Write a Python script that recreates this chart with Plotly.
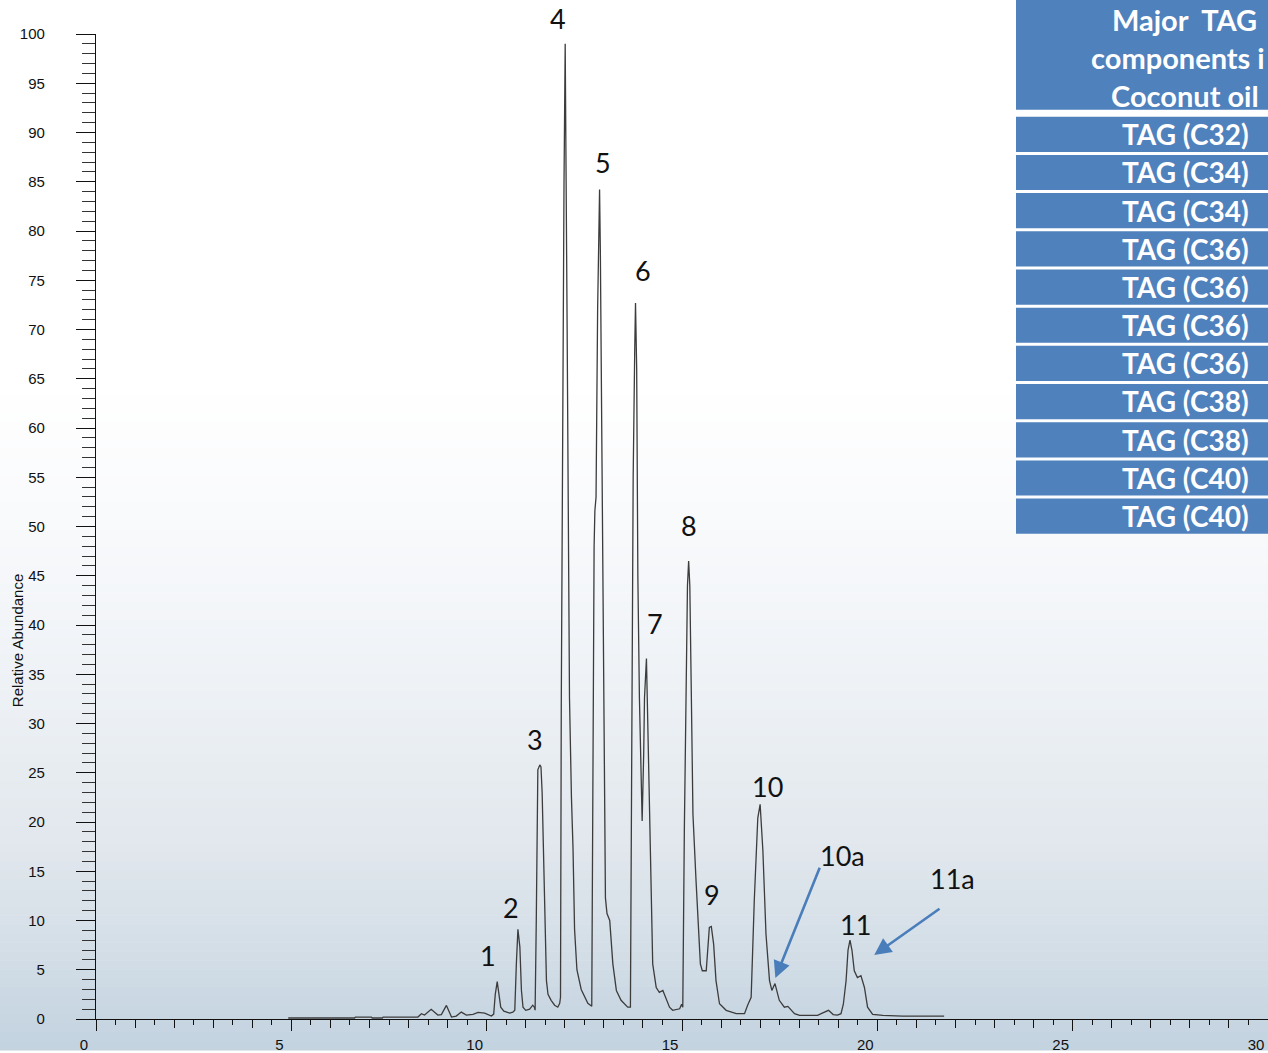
import plotly.graph_objects as go

# ---------------- data ----------------
ret_time = [
    4.92, 6.62, 6.64, 7.05, 7.07, 7.33, 7.35, 8.24, 8.33, 8.41, 8.58, 8.75, 8.84, 8.97,
    9.10, 9.22, 9.35, 9.48, 9.65, 9.78, 9.95, 10.12, 10.18, 10.22, 10.27, 10.31, 10.36,
    10.44, 10.59, 10.67, 10.72, 10.76, 10.80, 10.85, 10.89, 10.93, 11.00, 11.10, 11.18,
    11.22, 11.24, 11.27, 11.29, 11.31, 11.36, 11.39, 11.42, 11.44, 11.48, 11.53, 11.57,
    11.65, 11.74, 11.82, 11.87, 11.89, 11.91, 11.94, 11.98, 12.01, 12.03, 12.06, 12.10,
    12.12, 12.17, 12.21, 12.25, 12.31, 12.42, 12.59, 12.69, 12.72, 12.75, 12.77, 12.80,
    12.84, 12.89, 12.91, 12.94, 12.96, 12.99, 13.04, 13.08, 13.15, 13.23, 13.32, 13.44,
    13.61, 13.68, 13.72, 13.75, 13.79, 13.81, 13.84, 13.87, 13.91, 13.95, 13.98, 14.02,
    14.04, 14.09, 14.11, 14.17, 14.21, 14.25, 14.34, 14.42, 14.51, 14.59, 14.68, 14.76,
    14.94, 14.99, 15.02, 15.06, 15.11, 15.14, 15.17, 15.20, 15.24, 15.28, 15.36, 15.43,
    15.47, 15.52, 15.62, 15.70, 15.75, 15.81, 15.87, 15.96, 16.13, 16.39, 16.60, 16.68,
    16.77, 16.85, 16.94, 17.00, 17.07, 17.15, 17.24, 17.30, 17.38, 17.49, 17.62, 17.71,
    17.88, 18.01, 18.47, 18.59, 18.75, 18.87, 18.98, 19.07, 19.13, 19.20, 19.25, 19.30,
    19.35, 19.41, 19.49, 19.58, 19.67, 19.75, 19.88, 20.14, 20.65, 21.71,
]
rel_abundance = [
    0.1, 0.1, 0.2, 0.2, 0.1, 0.1, 0.2, 0.2, 0.54, 0.4, 0.98, 0.4, 0.45, 1.38,
    0.2, 0.3, 0.7, 0.4, 0.47, 0.67, 0.6, 0.3, 0.5, 2.5, 3.8, 2.6, 1.2,
    0.8, 0.6, 0.7, 0.9, 5.6, 9.1, 7.3, 2.9, 1.2, 0.88, 1.0, 1.4,
    1.2, 0.9, 10.0, 22.0, 25.3, 25.8, 25.6, 23.0, 19.1, 12.3, 3.9, 2.5,
    1.9, 1.4, 1.2, 1.6, 2.2, 32.0, 60.0, 85.0, 99.0, 90.0, 70.0, 45.0,
    32.6, 22.5, 17.4, 9.1, 5.0, 3.0, 1.6, 1.3, 32.6, 48.0, 51.6, 53.0,
    72.0, 84.2, 78.0, 63.0, 47.7, 32.6, 12.3, 10.7, 10.0, 5.6, 2.9, 1.9,
    1.2, 1.2, 32.6, 55.0, 68.0, 72.7, 66.0, 45.0, 32.6, 24.0, 20.1, 27.0,
    32.6, 36.6, 32.6, 19.1, 10.7, 5.6, 3.2, 2.7, 2.9, 2.05, 1.2, 0.88,
    1.04, 1.5, 1.2, 19.1, 32.6, 44.0, 46.5, 44.0, 32.6, 20.8, 14.0, 9.0,
    5.6, 4.9, 4.9, 9.3, 9.4, 7.6, 3.9, 1.55, 0.88, 0.54, 0.54, 1.4,
    2.2, 12.0, 20.4, 21.8, 17.1, 8.6, 3.9, 2.9, 3.6, 1.9, 1.2, 1.28,
    0.54, 0.37, 0.37, 0.6, 0.88, 0.45, 0.4, 0.54, 1.5, 3.9, 7.0, 8.0,
    7.0, 4.9, 4.2, 4.4, 3.2, 1.2, 0.47, 0.37, 0.3, 0.3,
]

peak_labels = ["1", "2", "3", "4", "5", "6", "7", "8", "9", "10", "10a", "11", "11a"]
peak_label_rt = [10.03, 10.61, 11.23, 11.82, 12.99, 13.99, 14.30, 15.19, 15.78, 17.19, 19.10, 19.44, 21.92]
peak_label_ab = [6.4, 11.3, 28.4, 101.6, 87.0, 76.0, 40.2, 50.1, 12.65, 23.6, 16.6, 9.6, 14.3]

table_header = ["Major\u00a0 TAG", "components i", "Coconut oil"]
table_rows = ["TAG (C32)", "TAG (C34)", "TAG (C34)", "TAG (C36)", "TAG (C36)", "TAG (C36)",
              "TAG (C36)", "TAG (C38)", "TAG (C38)", "TAG (C40)", "TAG (C40)"]

x_tick_labels = ["0", "5", "10", "15", "20", "25", "30"]
y_tick_labels = [str(v) for v in range(0, 101, 5)]

# ---------------- geometry helpers (pixel -> paper) ----------------
W, H = 1268, 1053
ML, MR, MT, MB = 96, 0, 34, 31
PW, PH = W - ML - MR, H - MT - MB
Y_MAX = 100.0


def px(xp):
    return (xp - ML) / PW


def py(yp):
    return (H - MB - yp) / PH


fig = go.Figure()

# chromatogram
fig.add_trace(go.Scatter(
    x=ret_time, y=rel_abundance, mode="lines",
    line=dict(color="#3c3c3c", width=1.3),
    hoverinfo="x+y", showlegend=False,
))
# invisible trace on helper axis for the 1-min ticks
fig.add_trace(go.Scatter(x=[], y=[], xaxis="x2", yaxis="y", showlegend=False))

shapes = []
# background gradient
stops = [(0, (255, 255, 255)), (380, (255, 255, 255)), (520, (249, 250, 252)),
         (700, (237, 241, 245)), (850, (225, 231, 237)), (950, (212, 222, 231)),
         (1053, (194, 210, 223))]
step = 9
yy = 0
while yy < H:
    mid = yy + step / 2
    for i in range(len(stops) - 1):
        if stops[i][0] <= mid <= stops[i + 1][0]:
            t = (mid - stops[i][0]) / (stops[i + 1][0] - stops[i][0])
            c = tuple(round(stops[i][1][k] + t * (stops[i + 1][1][k] - stops[i][1][k])) for k in range(3))
            break
    shapes.append(dict(type="rect", xref="paper", yref="paper", layer="below",
                       x0=px(0), x1=px(W), y0=py(yy + step + 0.5), y1=py(yy),
                       fillcolor="rgb(%d,%d,%d)" % c, line=dict(width=0)))
    yy += step

# table blocks
TBL_L = 1016
BLUE = "#4F81BD"
shapes.append(dict(type="rect", xref="paper", yref="paper", layer="above",
                   x0=px(TBL_L), x1=px(W + 5), y0=py(110), y1=py(-5),
                   fillcolor=BLUE, line=dict(width=0)))
row_tops = [117 + i * 38.3 for i in range(len(table_rows))]
for t in row_tops:
    shapes.append(dict(type="rect", xref="paper", yref="paper", layer="above",
                       x0=px(TBL_L), x1=px(W + 5), y0=py(t + 35.3), y1=py(t),
                       fillcolor=BLUE, line=dict(width=0)))

annotations = []
hdr_font = dict(family="Lato, Open Sans, sans-serif", size=29, color="white", weight="bold")
row_font = dict(family="Lato, Open Sans, sans-serif", size=28, color="white", weight="bold")
hdr_right = [1259, 1267, 1261]
for i, line in enumerate(table_header):
    annotations.append(dict(text=line, xref="paper", yref="paper", x=px(hdr_right[i]), y=py(19 + i * 38.5),
                            xanchor="right", yanchor="middle", showarrow=False, font=hdr_font))
for t, lab in zip(row_tops, table_rows):
    annotations.append(dict(text=lab, xref="paper", yref="paper", x=px(1185), y=py(t + 17.5),
                            xanchor="center", yanchor="middle", showarrow=False, font=row_font))

# peak labels (x on the time axis, y as fraction of the 0-100 abundance axis so
# that label "4", sitting above 100, is still drawn)
for lab, xv, yv in zip(peak_labels, peak_label_rt, peak_label_ab):
    annotations.append(dict(text=lab, x=xv, y=yv / Y_MAX, xref="x", yref="paper", showarrow=False,
                            xanchor="center", yanchor="middle",
                            font=dict(family="Lato, Open Sans, sans-serif", size=27, color="#111111")))

# arrows for 10a and 11a
ARROW = "#4A7EBB"
for (hx, hy, tx, ty) in [(17.39, 4.15, 18.54, 15.5), (19.92, 6.5, 21.63, 11.3)]:
    annotations.append(dict(text="", x=hx, y=hy, ax=tx, ay=ty, xref="x", yref="y",
                            axref="x", ayref="y", showarrow=True, arrowhead=2,
                            arrowsize=1.3, arrowwidth=2.6, arrowcolor=ARROW))

# y-axis title
annotations.append(dict(text="Relative Abundance", xref="paper", yref="paper",
                        x=px(17), y=py(643), textangle=-90, showarrow=False,
                        xanchor="center", yanchor="middle",
                        font=dict(family="Liberation Sans, Arial, sans-serif", size=15, color="#111111")))

tick_font = dict(family="Liberation Sans, Arial, sans-serif", size=15, color="#111111")

fig.update_layout(
    width=W, height=H,
    margin=dict(l=ML, r=MR, t=MT, b=MB, pad=0),
    paper_bgcolor="white", plot_bgcolor="rgba(0,0,0,0)",
    shapes=shapes, annotations=annotations, showlegend=False,
    xaxis=dict(range=[0, 30], showgrid=False, zeroline=False, showline=True,
               linecolor="#111111", linewidth=1.2, ticks="outside", ticklen=11,
               tickcolor="#111111", tickwidth=1,
               tickmode="array", tickvals=[int(s) for s in x_tick_labels], ticktext=x_tick_labels,
               tickfont=tick_font, ticklabelshift=-12, ticklabelstandoff=1,
               minor=dict(dtick=0.5, ticklen=5, tickcolor="#111111", ticks="outside", showgrid=False)),
    xaxis2=dict(range=[0, 30], overlaying="x", anchor="y", side="bottom", showgrid=False,
                zeroline=False, showline=False, ticks="outside", ticklen=8, dtick=1,
                tickcolor="#111111", showticklabels=False),
    yaxis=dict(range=[0, Y_MAX], showgrid=False, zeroline=False, showline=True,
               linecolor="#111111", linewidth=1.2, ticks="outside", ticklen=19,
               tickcolor="#111111", tickwidth=1,
               tickmode="array", tickvals=[int(s) for s in y_tick_labels], ticktext=y_tick_labels,
               tickfont=tick_font, ticklabelstandoff=28,
               minor=dict(dtick=1, ticklen=13, tickcolor="#333333", ticks="outside", showgrid=False)),
)

fig.write_html("out.html", config={"displayModeBar": False},
               post_script="document.body.style.margin='0px';document.body.style.overflow='hidden';")
